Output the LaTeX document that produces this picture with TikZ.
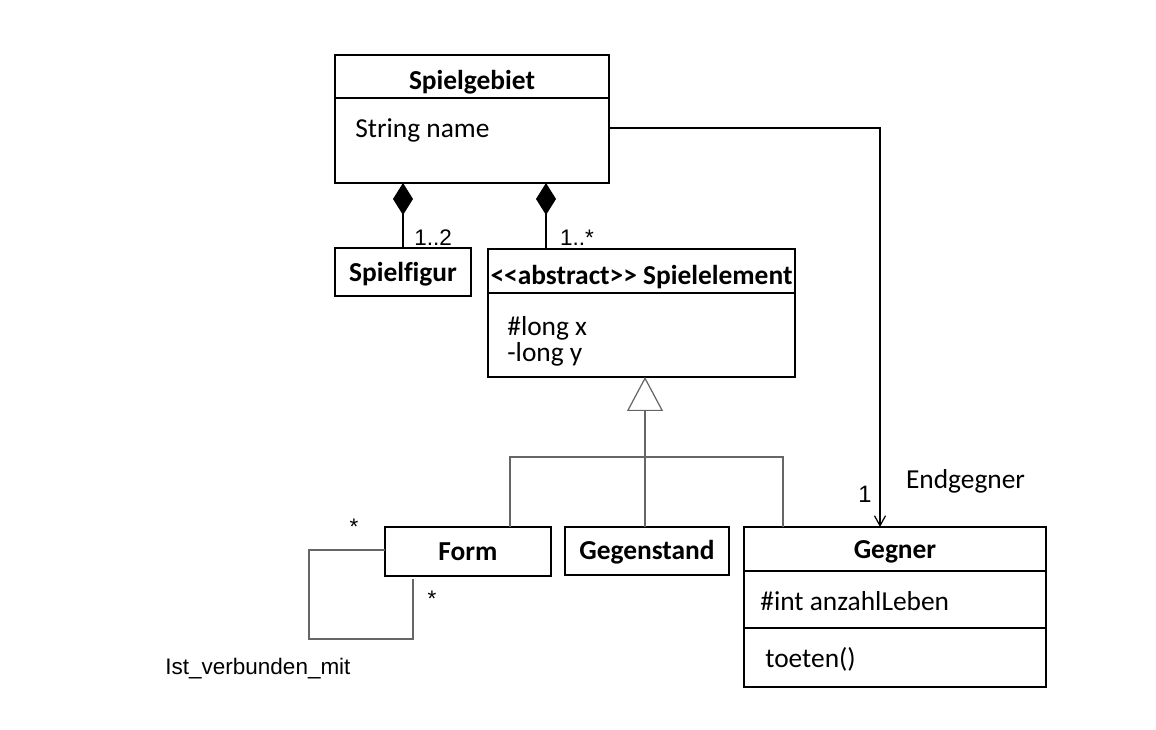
\documentclass[tikz,border=0pt]{standalone}
\usepackage{fontspec}
\newfontfamily\calib{Carlito}[Ligatures=NoCommon]
\newfontfamily\arialf{Liberation Sans}
\usetikzlibrary{arrows.meta}
\usetikzlibrary{calc}
\tikzset{
  klasse/.style={draw, line width=0.8pt, inner sep=0pt, outer sep=0pt},
  txt/.style={inner sep=0pt, font=\calib\fontsize{15.6}{18}\selectfont},
  bold/.style={txt, font=\calib\fontsize{15.6}{18}\selectfont\bfseries},
  mult/.style={inner sep=0pt, font=\arialf\fontsize{12.8}{15}\selectfont},
  komp/.style={line width=0.7pt, {Diamond[length=0.64cm,width=0.4cm]}-},
  vererb/.style={line width=0.7pt, black!60},
  assoz/.style={line width=0.7pt, -{Straight Barb[length=0.2cm,width=0.22cm]}}
}
\begin{document}
\begin{tikzpicture}[x=0.02cm,y=-0.02cm]
\useasboundingbox (0,0) rectangle (1156,730);

\node[klasse, minimum width=5.48cm, minimum height=2.56cm] (gebiet) at (472,119) {}; %Spielgebiet
\draw[line width=0.8pt] (gebiet.west |- 0,98) -- (gebiet.east |- 0,98);
\node[bold] (gebiettitel) at (472,82) {Spielgebiet};
\node[txt, anchor=west] (gebietname) at (355,130) {String name};

\node[klasse, minimum width=2.72cm, minimum height=0.96cm] (figur) at (403,272) {}; %Spielfigur
\node[bold] (figurtitel) at (403,274) {Spielfigur};

\node[klasse, minimum width=6.14cm, minimum height=2.56cm] (element) at (641.5,313) {}; %Spielelement
\draw[line width=0.8pt] (element.west |- 0,293) -- (element.east |- 0,293);
\node[bold] (elementtitel) at (641.5,277) {<<abstract>> Spielelement};
\node[txt, anchor=west] (elementx) at (507,328) {\#long x};
\node[txt, anchor=west] (elementy) at (507,354) {-long y};

\node[klasse, minimum width=3.32cm, minimum height=0.98cm] (form) at (468,551.5) {}; %Form
\node[bold] (formtitel) at (468,552) {Form};

\node[klasse, minimum width=3.28cm, minimum height=0.96cm] (gegenstand) at (647,551) {}; %Gegenstand
\node[bold] (gegenstandtitel) at (647,552) {Gegenstand};

\node[klasse, minimum width=6.04cm, minimum height=3.2cm] (gegner) at (895,607) {}; %Gegner
\draw[line width=0.8pt] (gegner.west |- 0,571) -- (gegner.east |- 0,571);
\draw[line width=0.8pt] (gegner.west |- 0,628) -- (gegner.east |- 0,628);
\node[bold] (gegnertitel) at (895,552) {Gegner};
\node[txt, anchor=west] (gegnerleben) at (760,601) {\#int anzahlLeben};
\node[txt, anchor=west] (gegnertoeten) at (765,659) {toeten()};

%Komposition
\coordinate (raute1) at (403,183);
\coordinate (raute2) at (546,183);
\draw[komp] (raute1) -- (raute1 |- figur.north);
\draw[komp] (raute2) -- (raute2 |- element.north);
\node[mult] (m12) at (433,238) {1..2};
\node[mult] (m1s) at (577,238) {1..*};

%Vererbung
\coordinate (mitte) at (645,457);
\coordinate (links) at (510,457);
\coordinate (rechts) at (783,457);
\draw[vererb, -{Triangle[open,length=0.68cm,width=0.72cm]}] (mitte) -- (mitte |- element.south);
\draw[vererb] (mitte) -- (mitte |- gegenstand.north);
\draw[vererb] (links |- form.north) -- (links) -- (rechts) -- (rechts |- gegner.north);

%Assoziation Endgegner
\coordinate (knick) at (880,128);
\draw[assoz] (gebiet.east |- knick) -- (knick) -- (knick |- gegner.north);
\node[mult, font=\arialf\fontsize{13.5}{16}\selectfont] (m1) at (865,494) {1};
\node[txt] (endgegner) at (965.5,481) {Endgegner};

%Ist_verbunden_mit
\coordinate (ecke1) at (309,550);
\coordinate (ecke2) at (413,639);
\coordinate (ende) at (413,579);
\draw[vererb] (form.west |- ecke1) -- (ecke1) -- (ecke1 |- ecke2) -- (ecke2) -- (ende);
\node[mult] (stern1) at (354,527) {*};
\node[mult] (stern2) at (432,599) {*};
\node[mult] (verbunden) at (258,669) {Ist\_verbunden\_mit};

\end{tikzpicture}
\end{document}
